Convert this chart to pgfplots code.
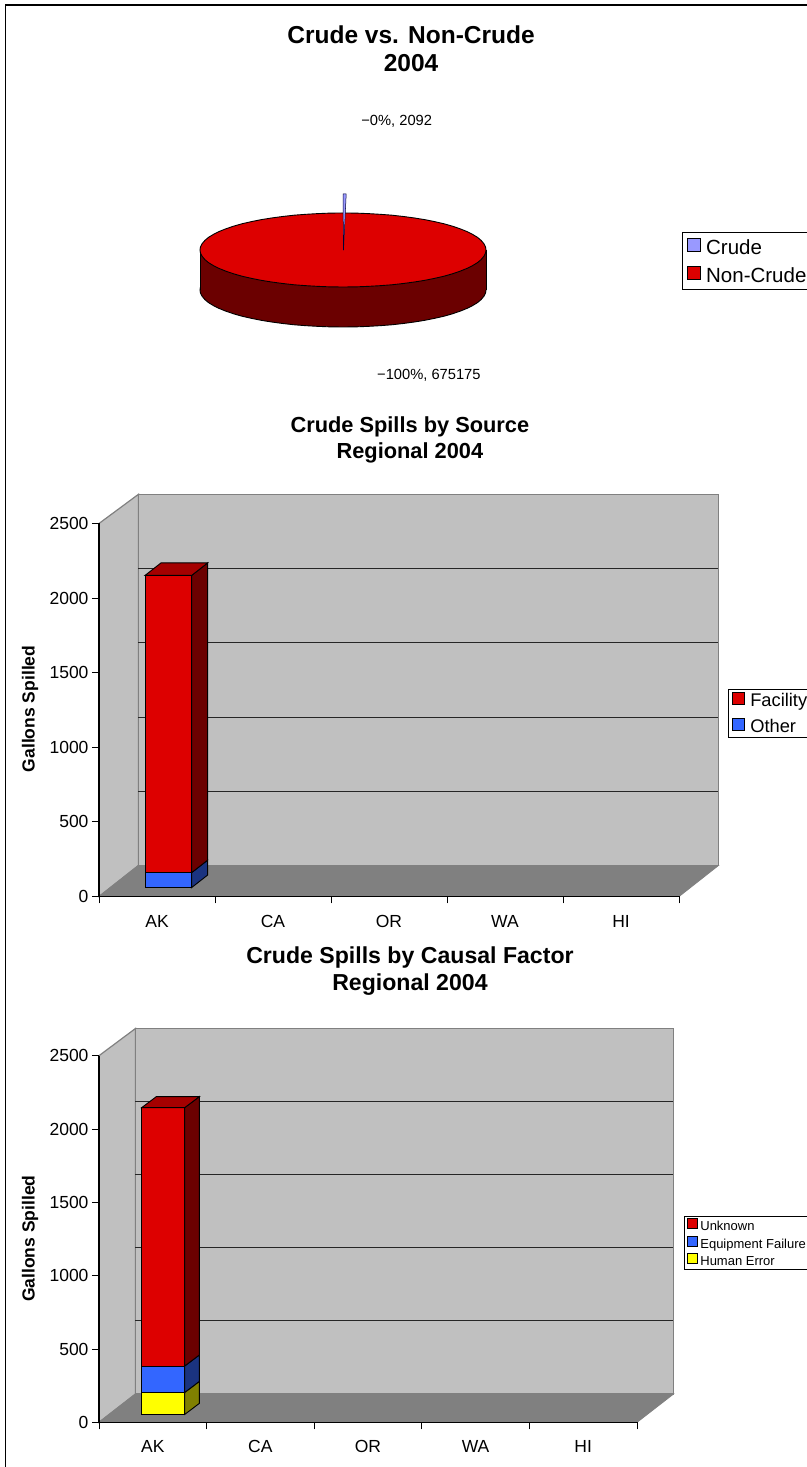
\documentclass[border=0pt]{standalone}
\usepackage{fontspec}
\setmainfont{Liberation Sans}
\usepackage{pgfplots}
\usepackage{pgfplotstable}
\pgfplotsset{compat=1.18}

\definecolor{wall}{HTML}{C0C0C0}
\definecolor{floorgray}{HTML}{808080}
\definecolor{redfront}{HTML}{DD0000}
\definecolor{redtop}{HTML}{A50000}
\definecolor{redside}{HTML}{6B0000}
\definecolor{bluefront}{HTML}{3366FF}
\definecolor{blueside}{HTML}{1A3380}
\definecolor{yellowfront}{HTML}{FFFF00}
\definecolor{yellowside}{HTML}{808000}
\definecolor{crudeblue}{HTML}{9999FF}

\newcommand{\fs}[2]{\fontsize{#1bp}{#2bp}\selectfont}

% Rim of the pie, one row per 5 degrees
\pgfplotstableread{
x y
143 0
142.5 3.2
140.8 6.4
138.1 9.6
134.4 12.7
129.6 15.6
123.8 18.5
117.1 21.2
109.5 23.8
101.1 26.2
91.9 28.3
82.0 30.3
71.5 32.0
60.4 33.5
48.9 34.8
37.0 35.7
24.8 36.4
12.5 36.9
0 37
-12.5 36.9
-24.8 36.4
-37.0 35.7
-48.9 34.8
-60.4 33.5
-71.5 32.0
-82.0 30.3
-91.9 28.3
-101.1 26.2
-109.5 23.8
-117.1 21.2
-123.8 18.5
-129.6 15.6
-134.4 12.7
-138.1 9.6
-140.8 6.4
-142.5 3.2
-143 0
-142.5 -3.2
-140.8 -6.4
-138.1 -9.6
-134.4 -12.7
-129.6 -15.6
-123.8 -18.5
-117.1 -21.2
-109.5 -23.8
-101.1 -26.2
-91.9 -28.3
-82.0 -30.3
-71.5 -32.0
-60.4 -33.5
-48.9 -34.8
-37.0 -35.7
-24.8 -36.4
-12.5 -36.9
0 -37
12.5 -36.9
24.8 -36.4
37.0 -35.7
48.9 -34.8
60.4 -33.5
71.5 -32.0
82.0 -30.3
91.9 -28.3
101.1 -26.2
109.5 -23.8
117.1 -21.2
123.8 -18.5
129.6 -15.6
134.4 -12.7
138.1 -9.6
140.8 -6.4
142.5 -3.2
}\pierim

\pgfplotsset{
  swatch/.style={legend image code/.code={
    \draw[##1,draw=black,line width=0.9bp] (0bp,{-#1/2+0.35ex}) rectangle ({#1},{#1/2+0.35ex});}},
  barchart/.style={
    scale only axis, clip=false, axis on top,
    xmin=0, xmax=5, ymin=0, ymax=2500,
    axis x line*=bottom, axis y line*=left,
    axis line style={-,black,line width=1.1bp},
    tick align=outside,
    major tick length=7bp, minor tick length=7bp,
    tick style={black,line width=0.9bp},
    major x tick style={draw=none},
    xtick={0.5,1.5,2.5,3.5,4.5},
    xticklabels={AK,CA,OR,WA,HI},
    minor xtick={0,1,2,3,4,5},
    ytick={0,500,1000,1500,2000,2500},
    scaled ticks=false,
    /pgf/number format/1000 sep={},
    /pgf/number format/assume math mode=true,
    tick label style={font=\fs{17.5}{20}},
    xticklabel style={yshift=-7bp,text height=13bp,text depth=0pt},
    ylabel={Gallons Spilled},
    ylabel style={font=\fs{17.5}{20}\bfseries,anchor=center},
    title style={font=\fs{22}{26}\bfseries,align=center,anchor=center},
    legend cell align=left,
  },
}

% Walls and floor of the box behind the bars
\newcommand{\chartbox}{%
  \addplot[forget plot,fill=wall,draw=floorgray,line width=1.2bp] coordinates {(0,0)(\dX,\dY)(\dX,2500*\wallk+\dY)(0,2500)} -- cycle;
  \addplot[forget plot,fill=wall,draw=floorgray,line width=1.2bp] coordinates {(\dX,\dY)(5+\dX,\dY)(5+\dX,2500*\wallk+\dY)(\dX,2500*\wallk+\dY)} -- cycle;
  \addplot[forget plot,fill=floorgray,draw=floorgray,line width=0.9bp] coordinates {(0,0)(5,0)(5+\dX,\dY)(\dX,\dY)} -- cycle;
  \addplot[forget plot,draw=black!85,line width=1bp] coordinates {(\dX,500*\wallk+\dY)(5+\dX,500*\wallk+\dY)};
  \addplot[forget plot,draw=black!85,line width=1bp] coordinates {(\dX,1000*\wallk+\dY)(5+\dX,1000*\wallk+\dY)};
  \addplot[forget plot,draw=black!85,line width=1bp] coordinates {(\dX,1500*\wallk+\dY)(5+\dX,1500*\wallk+\dY)};
  \addplot[forget plot,draw=black!85,line width=1bp] coordinates {(\dX,2000*\wallk+\dY)(5+\dX,2000*\wallk+\dY)};
}
% One stacked block: from, to, front colour, side colour
\newcommand{\block}[4]{%
  \addplot[forget plot,fill=#3,draw=black,line width=0.9bp] coordinates {(\barL,#1+\base)(\barR,#1+\base)(\barR,#2+\base)(\barL,#2+\base)} -- cycle;
  \addplot[forget plot,fill=#4,draw=black,line width=0.9bp] coordinates {(\barR,#1+\base)(\barR+\bX,#1+\base+\bY)(\barR+\bX,#2+\base+\bY)(\barR,#2+\base)} -- cycle;
}
\newcommand{\blocktop}[2]{%
  \addplot[forget plot,fill=#2,draw=black,line width=0.9bp] coordinates {(\barL,#1+\base)(\barR,#1+\base)(\barR+\bX,#1+\base+\bY)(\barL+\bX,#1+\base+\bY)} -- cycle;
}

\begin{document}
\begin{tikzpicture}
\clip (0,0) rectangle (807bp,1467bp);
\draw[black,line width=1.2bp] (5.5bp,0bp) -- (5.5bp,1462bp) -- (807bp,1462bp);

% Crude against non-crude
\begin{axis}[
  at={(200bp,1140bp)}, anchor=south west,
  scale only axis, width=286bp, height=114bp,
  xmin=-143, xmax=143, ymin=-77, ymax=37,
  axis lines=none, clip=false,
  title={Crude vs. Non-Crude\\2004},
  title style={at={(axis description cs:0.738,2.387)},anchor=center,align=center,font=\fs{24.5}{28}\bfseries},
  swatch=13bp,
  legend cell align=left,
  legend style={at={(axis description cs:1.685,0.833)},anchor=north west,draw=black,line width=0.9bp,
    font=\fs{20.5}{24},inner xsep=5bp,inner ysep=5bp,row sep=9bp,
    nodes={inner xsep=4.9bp,inner ysep=2bp,text height=15bp,text depth=0bp}},
]
\addlegendimage{fill=crudeblue}\addlegendentry{Crude}
\addlegendimage{fill=redfront}\addlegendentry{Non-Crude}
\addplot[forget plot,fill=redside,draw=black,line width=0.9bp,no marks] table[x=x,y expr=\thisrow{y}-40] {\pierim} -- cycle;
\addplot[forget plot,fill=redside,draw=none] coordinates {(-143,0)(143,0)(143,-40)(-143,-40)} -- cycle;
\addplot[forget plot,draw=black,line width=0.9bp] coordinates {(-143,0)(-143,-40)};
\addplot[forget plot,draw=black,line width=0.9bp] coordinates {(143,0)(143,-40)};
\addplot[forget plot,fill=redfront,draw=black,line width=0.9bp,no marks] table[x=x,y=y] {\pierim} -- cycle;
% The crude share, 2092 of 677267 gallons, lifted out of the pie
\addplot[forget plot,fill=crudeblue,draw=black!80!blue,line width=0.5bp] coordinates {(0.5,-0.5)(0,56)(3.2,56)} -- cycle;
\node[anchor=west,font=\fs{14.7}{17},inner sep=0pt] at (axis cs:18.2,129) {−0\%, 2092};
\node[anchor=west,font=\fs{14.7}{17},inner sep=0pt] at (axis cs:34,-125) {−100\%, 675175};
\end{axis}

% Crude spills by source
\def\dX{0.34}\def\dY{208}\def\wallk{0.995}\def\barL{0.397}\def\barR{0.799}\def\bX{0.138}\def\bY{84}\def\base{60}
\begin{axis}[
  barchart,
  at={(99bp,570.5bp)}, anchor=south west, width=580bp, height=373bp,
  title={Crude Spills by Source\\Regional 2004},
  title style={at={(axis description cs:0.536,1.208)},font=\fs{21.8}{26}\bfseries},
  ylabel style={at={(axis description cs:-0.119,0.503)}},
  swatch=12bp,
  legend style={at={(axis description cs:1.0845,0.5576)},anchor=north west,draw=black,line width=0.9bp,
    font=\fs{18.3}{22},inner xsep=4bp,inner ysep=2bp,row sep=8bp,
    nodes={inner xsep=4.9bp,inner ysep=2bp,text height=14bp,text depth=0bp}},
]
\chartbox
\block{0}{100}{bluefront}{blueside}
\block{100}{2092}{redfront}{redside}
\blocktop{2092}{redtop}
\addlegendimage{fill=redfront}\addlegendentry{Facility}
\addlegendimage{fill=bluefront}\addlegendentry{Other}
\end{axis}

% Crude spills by causal factor
\def\dX{0.339}\def\dY{193}\def\wallk{0.997}\def\barL{0.397}\def\barR{0.797}\def\bX{0.136}\def\bY{75}\def\base{54}
\begin{axis}[
  barchart,
  at={(99bp,44.7bp)}, anchor=south west, width=538bp, height=366.6bp,
  title={Crude Spills by Causal Factor\\Regional 2004},
  title style={at={(axis description cs:0.578,1.2135)},font=\fs{23.1}{27}\bfseries},
  ylabel style={at={(axis description cs:-0.128,0.501)}},
  swatch=10bp,
  legend style={at={(axis description cs:1.087,0.5627)},anchor=north west,draw=black,line width=0.9bp,
    font=\fs{13}{15},inner xsep=3bp,inner ysep=2bp,row sep=3bp,
    nodes={inner xsep=2.2bp,inner ysep=2bp,text height=10bp,text depth=0bp}},
]
\chartbox
\block{0}{150}{yellowfront}{yellowside}
\block{150}{330}{bluefront}{blueside}
\block{330}{2092}{redfront}{redside}
\blocktop{2092}{redtop}
\addlegendimage{fill=redfront}\addlegendentry{Unknown}
\addlegendimage{fill=bluefront}\addlegendentry{Equipment Failure}
\addlegendimage{fill=yellowfront}\addlegendentry{Human Error}
\end{axis}
\end{tikzpicture}
\end{document}
